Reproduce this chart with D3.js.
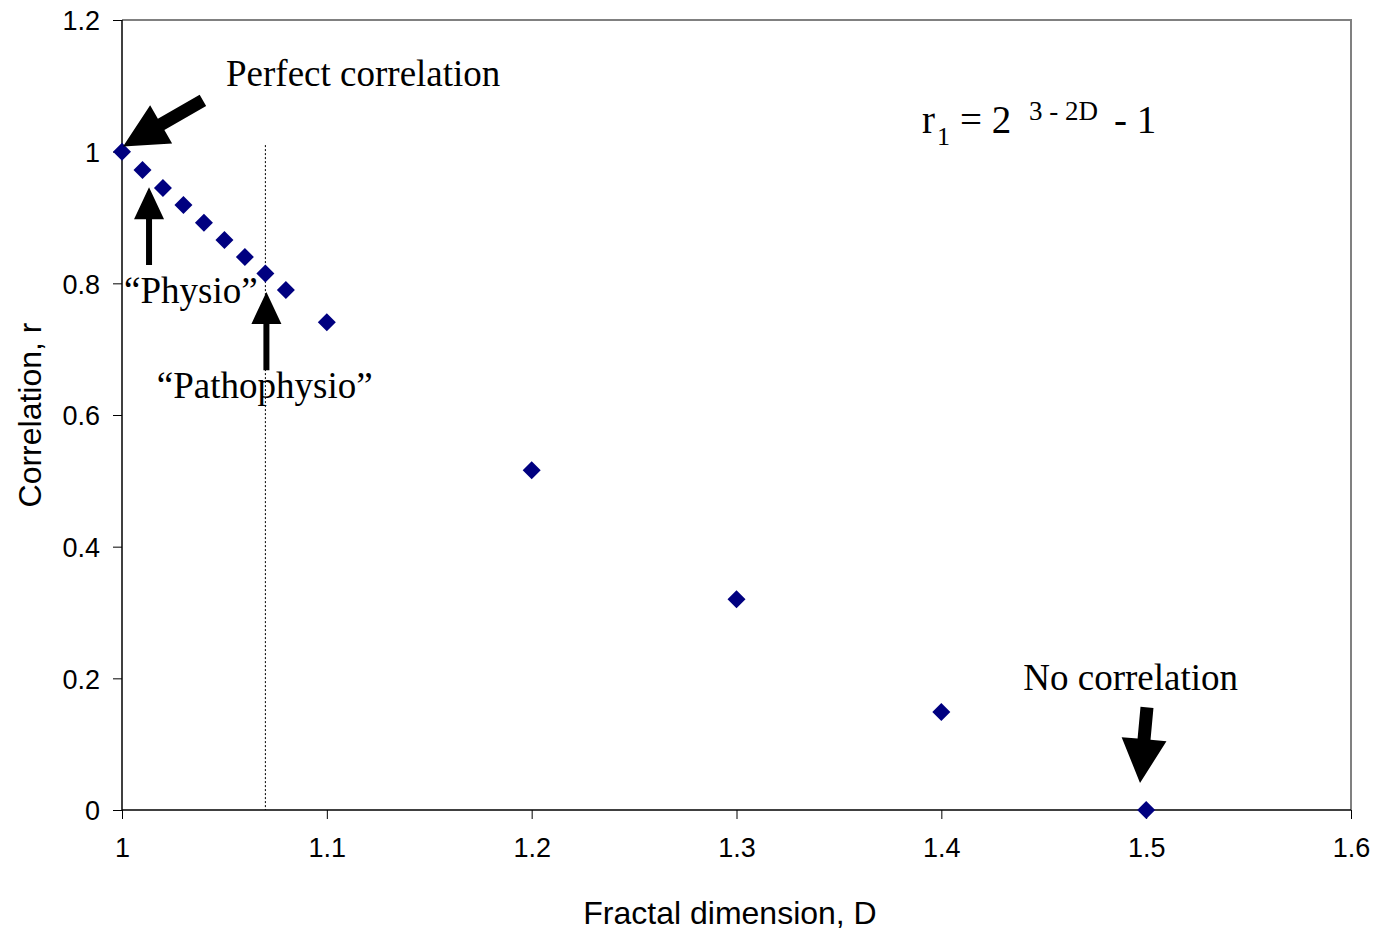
<!DOCTYPE html>
<html>
<head>
<meta charset="utf-8">
<script src="https://cdn.jsdelivr.net/npm/d3@7"></script>
<style>
  body { margin: 0; background: #fff; }
  svg { display: block; }
</style>
</head>
<body>
<div class="content"></div>
<script>
// fractal dimension D and correlation r1
var dims = [1.00, 1.01, 1.02, 1.03, 1.04, 1.05, 1.06, 1.07, 1.08, 1.10, 1.20, 1.30, 1.40, 1.50];
var corr = [1.000, 0.972, 0.945, 0.919, 0.892, 0.866, 0.840, 0.815, 0.790, 0.741, 0.516, 0.320, 0.149, 0.000];

var xTicks = [1, 1.1, 1.2, 1.3, 1.4, 1.5, 1.6];
var yTicks = [0, 0.2, 0.4, 0.6, 0.8, 1, 1.2];

var markerD = 1.07;

// arrows: tail -> tip, in data units
var arrows = [
    { from: [1.0395, 1.078], to: [1.0005, 1.008], shaft: 13, head: 44, len: 44 },
    { from: [1.0132, 0.828], to: [1.0132, 0.946], shaft: 6, head: 30, len: 32 },
    { from: [1.0705, 0.668], to: [1.0705, 0.787], shaft: 6, head: 30, len: 32 },
    { from: [1.5004, 0.156], to: [1.4970, 0.041], shaft: 13, head: 45, len: 44 }
];

var labels = [
    { text: "Perfect correlation", x: 1.0508, y: 1.0990 },
    { text: "\u201cPhysio\u201d", x: 1.0010, y: 0.7700 },
    { text: "\u201cPathophysio\u201d", x: 1.0170, y: 0.6255 },
    { text: "No correlation", x: 1.4400, y: 0.1823 }
];

var W = 1378, H = 934;
var mL = 122, mT = 20, mR = 1351, mB = 810;

var svg = d3.select('.content').append('svg')
    .attr('width', W)
    .attr('height', H);

var x = d3.scaleLinear().domain([1, 1.6]).range([mL, mR]);
var y = d3.scaleLinear().domain([0, 1.2]).range([mB, mT]);

// frame top / right (grey)
svg.append('path')
    .attr('d', 'M' + mL + ',' + mT + 'H' + mR + 'V' + mB)
    .attr('fill', 'none')
    .attr('stroke', '#808080')
    .attr('stroke-width', 2);

// dotted marker line at D = 1.07
svg.append('line')
    .attr('x1', x(markerD)).attr('x2', x(markerD))
    .attr('y1', y(1.01)).attr('y2', y(0))
    .attr('stroke', '#000')
    .attr('stroke-width', 1)
    .attr('stroke-dasharray', '2,2');

var yAxis = svg.append('g')
    .attr('transform', 'translate(' + mL + ',0)')
    .call(d3.axisLeft(y).tickValues(yTicks).tickSize(9).tickPadding(13)
        .tickFormat(function(d) { return String(+d.toFixed(1)); }));

var xAxis = svg.append('g')
    .attr('transform', 'translate(0,' + mB + ')')
    .call(d3.axisBottom(x).tickValues(xTicks).tickSize(9).tickPadding(13)
        .tickFormat(function(d) { return String(+d.toFixed(1)); }));

[yAxis, xAxis].forEach(function(g) {
    g.select('.domain').attr('stroke', '#000').attr('stroke-width', 1.5);
    g.selectAll('.tick line').attr('stroke', '#000').attr('stroke-width', 1);
    g.selectAll('.tick text')
        .attr('fill', '#000')
        .style('font-family', 'Liberation Sans, Arial, sans-serif')
        .style('font-size', '27px');
});
xAxis.selectAll('.tick text').attr('dy', '0.92em');
yAxis.selectAll('.tick text').attr('dy', '0.36em');
yAxis.select('.domain').attr('d', 'M0,' + mT + 'V' + mB);
xAxis.select('.domain').attr('d', 'M' + mL + ',0H' + mR);

// axis titles
svg.append('text')
    .attr('x', 730)
    .attr('y', 924)
    .attr('text-anchor', 'middle')
    .style('font-family', 'Liberation Sans, Arial, sans-serif')
    .style('font-size', '32px')
    .text('Fractal dimension, D');

svg.append('text')
    .attr('transform', 'translate(41,' + ((mT + mB) / 2) + ') rotate(-90)')
    .attr('text-anchor', 'middle')
    .style('font-family', 'Liberation Sans, Arial, sans-serif')
    .style('font-size', '32px')
    .text('Correlation, r');

// points
var pts = dims.map(function(d, i) { return { d: d, r: corr[i] }; });
svg.selectAll('.pt')
    .data(pts)
    .enter().append('path')
    .attr('class', 'pt')
    .attr('d', 'M0,-9L9,0L0,9L-9,0Z')
    .attr('transform', function(p) { return 'translate(' + x(p.d) + ',' + y(p.r) + ')'; })
    .attr('fill', '#000080');

// block arrows
function arrowPath(a) {
    var x0 = x(a.from[0]), y0 = y(a.from[1]);
    var x1 = x(a.to[0]), y1 = y(a.to[1]);
    var dx = x1 - x0, dy = y1 - y0;
    var L = Math.sqrt(dx * dx + dy * dy);
    var ux = dx / L, uy = dy / L;
    var nx = -uy, ny = ux;
    var bx = x1 - ux * a.len, by = y1 - uy * a.len;
    var s = a.shaft / 2, h = a.head / 2;
    var p = [
        [x0 + nx * s, y0 + ny * s],
        [bx + nx * s, by + ny * s],
        [bx + nx * h, by + ny * h],
        [x1, y1],
        [bx - nx * h, by - ny * h],
        [bx - nx * s, by - ny * s],
        [x0 - nx * s, y0 - ny * s]
    ];
    return 'M' + p.map(function(q) { return q[0] + ',' + q[1]; }).join('L') + 'Z';
}

svg.selectAll('.arrow')
    .data(arrows)
    .enter().append('path')
    .attr('class', 'arrow')
    .attr('d', arrowPath)
    .attr('fill', '#000');

// annotation text
svg.selectAll('.note')
    .data(labels)
    .enter().append('text')
    .attr('class', 'note')
    .attr('x', function(l) { return x(l.x); })
    .attr('y', function(l) { return y(l.y); })
    .style('font-family', 'Liberation Serif, Times New Roman, serif')
    .style('font-size', '37px')
    .text(function(l) { return l.text; });

// formula r1 = 2^(3-2D) - 1
var f = svg.append('text')
    .attr('y', 133)
    .style('font-family', 'Liberation Serif, Times New Roman, serif')
    .style('font-size', '39px');
f.append('tspan').attr('x', 922).text('r');
f.append('tspan').attr('x', 937).attr('y', 145).style('font-size', '26px').text('1');
f.append('tspan').attr('x', 960).attr('y', 133).text('= 2');
f.append('tspan').attr('x', 1029).attr('y', 120).style('font-size', '27px').text('3 - 2D');
f.append('tspan').attr('x', 1114).attr('y', 133).text('- 1');
</script>
</body>
</html>
